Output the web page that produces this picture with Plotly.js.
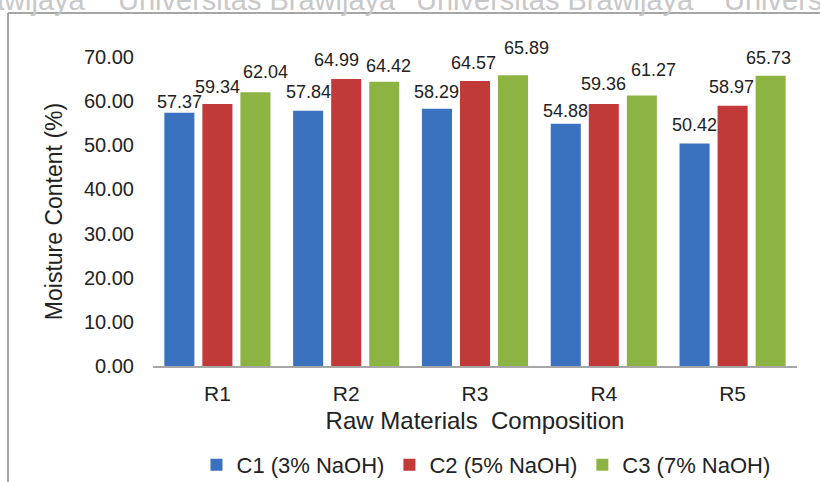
<!DOCTYPE html>
<html>
<head>
<meta charset="utf-8">
<script src="https://cdn.plot.ly/plotly-3.0.1.min.js"></script>
<style>html,body{margin:0;padding:0;background:#fff;}#chart{width:820px;height:482px;}</style>
</head>
<body>
<div id="chart"></div>
<script>
var categories = ["R1", "R2", "R3", "R4", "R5"];
var seriesNames = ["C1 (3% NaOH)", "C2 (5% NaOH)", "C3 (7% NaOH)"];
var c1Values = [57.37, 57.84, 58.29, 54.88, 50.42];
var c2Values = [59.34, 64.99, 64.57, 59.36, 58.97];
var c3Values = [62.04, 64.42, 65.89, 61.27, 65.73];
var yTickValues = [0, 10, 20, 30, 40, 50, 60, 70];
var colors = ["#3a72bf", "#c13a37", "#8db443"];

// label placement nudges (pixels), as placed in the original chart
var labelNudgeX = [[0, 0, 0, 0, 0], [0, -10, -2, 0, -1], [10, 4, 13, 12, -2]];
var labelNudgeY = [[-7, 1, -1, -5, 0], [-1, 1, 0, 2, 1], [2, -2, 9, 8, 0]];

var FONT = "Liberation Sans, Arial, sans-serif";
var allValues = [c1Values, c2Values, c3Values];
var traces = allValues.map(function (vals, i) {
  return {
    type: "bar",
    name: seriesNames[i],
    x: categories,
    y: vals,
    marker: {color: colors[i], line: {width: 0}},
    hoverinfo: "x+y"
  };
});

// pixel -> paper helpers (plot area: x 153..797, y 57..366)
var plotL = 153, plotR = 797, plotT = 57, plotB = 366;
function px(x) { return (x - plotL) / (plotR - plotL); }
function py(y) { return (plotB - y) / (plotB - plotT); }
var BARGAP = 0.114, BARGROUPGAP = 0.21;
var slotPx = (plotR - plotL) / categories.length * (1 - BARGAP) / allValues.length;

var annotations = [];
allValues.forEach(function (vals, i) {
  vals.forEach(function (v, j) {
    annotations.push({
      xref: "x", yref: "y", x: categories[j], y: v,
      xanchor: "center", yanchor: "bottom",
      xshift: (i - (allValues.length - 1) / 2) * slotPx + labelNudgeX[i][j],
      yshift: 6 + labelNudgeY[i][j],
      showarrow: false,
      text: v.toFixed(2),
      font: {family: FONT, size: 18, color: "#222"}
    });
  });
});

var wm = {family: FONT, size: 29, color: "#c8c8c8"};
annotations.push(
  {xref: "paper", yref: "paper", x: px(88), y: py(18), xanchor: "right", yanchor: "bottom", showarrow: false, text: "awijaya", font: wm},
  {xref: "paper", yref: "paper", x: px(257), y: py(18), xanchor: "center", yanchor: "bottom", showarrow: false, text: "Universitas Brawijaya", font: wm},
  {xref: "paper", yref: "paper", x: px(555), y: py(18), xanchor: "center", yanchor: "bottom", showarrow: false, text: "Universitas Brawijaya", font: wm},
  {xref: "paper", yref: "paper", x: px(722), y: py(18), xanchor: "left", yanchor: "bottom", showarrow: false, text: "Universitas", font: wm}
);

var layout = {
  width: 820, height: 482,
  margin: {l: plotL, r: 820 - plotR, t: plotT, b: 482 - plotB, autoexpand: false},
  paper_bgcolor: "#fff", plot_bgcolor: "#fff",
  barmode: "group",
  bargap: BARGAP,
  bargroupgap: BARGROUPGAP,
  font: {family: FONT, color: "#222"},
  xaxis: {
    type: "category",
    showgrid: false,
    showline: true, linecolor: "#a6a6a6", linewidth: 2,
    ticks: "outside", ticklen: 8, tickcolor: "rgba(0,0,0,0)",
    tickfont: {family: FONT, size: 21, color: "#222"},
    title: {text: "Raw Materials  Composition", font: {family: FONT, size: 24, color: "#222"}, standoff: 8},
    zeroline: false
  },
  yaxis: {
    range: [0, 70],
    tickvals: yTickValues,
    tickformat: ".2f",
    showgrid: false, zeroline: false, showline: false,
    ticks: "outside", ticklen: 14, tickcolor: "rgba(0,0,0,0)",
    tickfont: {family: FONT, size: 20, color: "#222"},
    title: {text: "Moisture Content (%)", font: {family: FONT, size: 23, color: "#222"}, standoff: 14}
  },
  showlegend: true,
  legend: {
    orientation: "h",
    x: px(486), xanchor: "center",
    y: py(444), yanchor: "top",
    font: {family: FONT, size: 22, color: "#222"},
    bgcolor: "rgba(0,0,0,0)",
    itemclick: false
  },
  shapes: [
    {type: "line", xref: "paper", yref: "paper", x0: px(8), x1: px(822), y0: py(13), y1: py(13), line: {color: "#a6a6a6", width: 2}},
    {type: "line", xref: "paper", yref: "paper", x0: px(8), x1: px(8), y0: py(13), y1: py(484), line: {color: "#a6a6a6", width: 2}}
  ],
  annotations: annotations
};

Plotly.newPlot("chart", traces, layout, {displayModeBar: false, staticPlot: true});
</script>
</body>
</html>
